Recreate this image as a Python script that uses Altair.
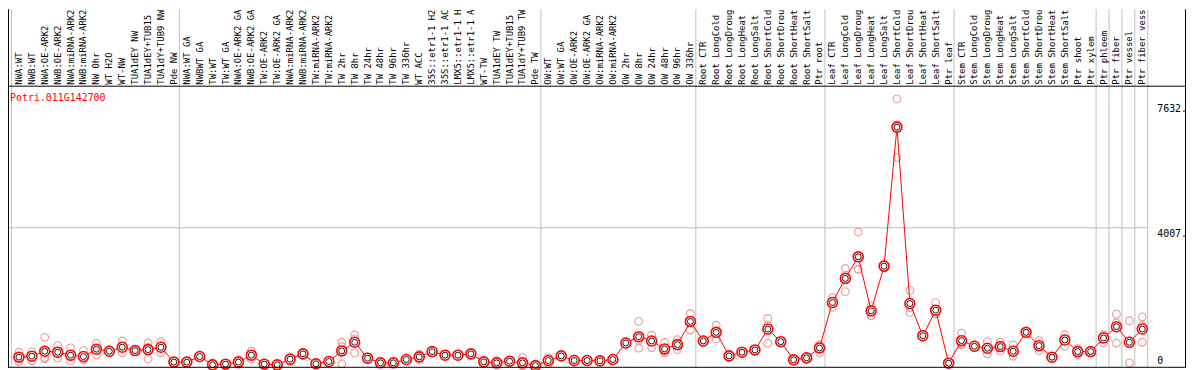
import altair as alt
import pandas as pd

gene = "Potri.011G142700"

group_labels = [
    ["NWA:WT", "NWB:WT", "NWA:OE-ARK2", "NWB:OE-ARK2", "NWA:miRNA-ARK2", "NWB:miRNA-ARK2",
     "NW 0hr", "WT H2O", "WT-NW", "TUA1dEY NW", "TUA1dEY+TUB15 NW", "TUA1dY+TUB9 NW", "Pde NW"],
    ["NWA:WT GA", "NWBWT GA", "TW:WT", "TW:WT GA", "NWA:OE-ARK2 GA", "NWB:OE-ARK2 GA",
     "TW:OE-ARK2", "TW:OE-ARK2 GA", "NWA:miRNA-ARK2 GA", "NWB:miRNA-ARK2 GA", "TW:miRNA-ARK2",
     "TW:miRNA-ARK2 GA", "TW 2hr", "TW 8hr", "TW 24hr", "TW 48hr", "TW 96hr", "TW 336hr",
     "WT ACC", "35S::etr1-1 H2O", "35S::etr1-1 ACC", "LMX5::etr1-1 H2O", "LMX5::etr1-1 ACC",
     "WT-TW", "TUA1dEY TW", "TUA1dEY+TUB15 TW", "TUA1dY+TUB9 TW", "Pde TW"],
    ["OW:WT", "OW:WT GA", "OW:OE-ARK2", "OW:OE-ARK2 GA", "OW:miRNA-ARK2", "OW:miRNA-ARK2 GA",
     "OW 2hr", "OW 8hr", "OW 24hr", "OW 48hr", "OW 96hr", "OW 336hr"],
    ["Root CTR", "Root LongCold", "Root LongDrought", "Root LongHeat", "Root LongSalt",
     "Root ShortCold", "Root ShortDrought", "Root ShortHeat", "Root ShortSalt", "Ptr root"],
    ["Leaf CTR", "Leaf LongCold", "Leaf LongDrought", "Leaf LongHeat", "Leaf LongSalt",
     "Leaf ShortCold", "Leaf ShortDrought", "Leaf ShortHeat", "Leaf ShortSalt", "Ptr leaf"],
    ["Stem CTR", "Stem LongCold", "Stem LongDrought", "Stem LongHeat", "Stem LongSalt",
     "Stem ShortCold", "Stem ShortDrought", "Stem ShortHeat", "Stem ShortSalt", "Ptr shoot",
     "Ptr xylem"],
    ["Ptr phloem"],
    ["Ptr fiber"],
    ["Ptr vessel"],
    ["Ptr fiber vessel"],
]

means = [
    251, 279, 423, 395, 308, 269, 481, 423, 539, 441, 470, 539, 107,
    107, 269, 29, 48, 107, 308, 48, 29, 192, 346, 58, 125, 432, 683, 221, 86, 86, 182,
    259, 413, 308, 308, 346, 115, 86, 134, 86, 5,
    153, 288, 153, 153, 144, 182, 663, 845, 721, 490, 615, 1288,
    721, 971, 288, 395, 461, 1067, 701, 173, 230, 519,
    1836, 2537, 3162, 1595, 2892, 6928, 1807, 874, 1614, 77,
    730, 567, 510, 557, 423, 971, 585, 250, 750, 413, 413,
    807, 1134, 683, 1067,
]

replicates = [
    [395, 124, 240], [412, 153, 270], [827, 202, 240], [585, 222, 380], [519, 144, 260],
    [441, 202, 165], [654, 317, 470], [470, 380], [721, 375, 520], [460, 420],
    [663, 202, 545], [701, 375, 540], [120, 95],
    [125, 90], [280, 258], [86, 0], [55, 40], [182, 40], [423, 200], [50, 46], [35, 22],
    [260, 130], [360, 330], [65, 50], [130, 120], [683, 58, 555], [894, 375, 780],
    [260, 180], [90, 80], [95, 78], [210, 155], [346, 172], [430, 395], [320, 296],
    [315, 300], [355, 337], [130, 100], [153, 20], [150, 118], [240, 18, 0], [10, 0],
    [240, 66], [300, 276], [202, 104], [165, 141], [150, 138], [190, 174], [700, 626],
    [1288, 510, 737], [894, 519, 750], [683, 375, 412], [759, 471], [1519, 1038, 1307],
    [760, 682], [1182, 778, 953], [320, 256], [405, 385], [470, 452], [1374, 654, 1173],
    [730, 672], [190, 156], [240, 220], [615, 375, 567],
    [1692, 1980], [2825, 2153, 2633], [3883, 2797, 2806], [1738, 1452], [2950, 2834],
    [7746, 6046, 6992], [2191, 1548, 1682], [920, 828], [1836, 1499, 1507], [85, 69],
    [951, 605, 634], [605, 529], [701, 346, 483], [683, 431], [605, 279, 385], [990, 952],
    [730, 440], [260, 240], [903, 567, 780], [500, 326], [420, 406],
    [903, 663, 855], [1499, 654, 1249], [1307, 86, 656], [1422, 1163, 683],
]

tick_values = [7632, 4007, 0]
tick_texts = ["7632.", "4007.", "0"]
grid_values = [4007]

# the header only has room for the first 14 characters of each label (as in the reference)
VISIBLE_CHARS = 14

# ---- tables ----
labels = [lab for g in group_labels for lab in g]
samples = pd.DataFrame({
    "pos": list(range(len(labels))),
    "label": [lab[:VISIBLE_CHARS].rstrip() for lab in labels],
    "mean": means,
})

rep_rows = []
for i, vals in enumerate(replicates):
    for v in vals:
        rep_rows.append({"pos": i, "value": v})
reps = pd.DataFrame(rep_rows)

starts = []
s = 0
for g in group_labels:
    starts.append(s)
    s += len(g)
starts.append(s)
seps = pd.DataFrame({"sep": [k - 8 / 13 + 0.5 / 13 for k in starts]})

ticks = pd.DataFrame({"v": tick_values, "t": tick_texts})
grid = pd.DataFrame({"v": grid_values})
title_df = pd.DataFrame({"t": [gene]})

W, H = 1186, 362
xscale = alt.Scale(domain=[-11 / 13, (W - 11) / 13], nice=False, zero=False)
yscale = alt.Scale(domain=[-86.48, 10349.1], nice=False, zero=False)
MONO = "DejaVu Sans Mono"

sep_layer = alt.Chart(seps).mark_rule(color="#c0c0c0", strokeWidth=1).encode(
    x=alt.X("sep:Q", scale=xscale, axis=None),
    y=alt.value(0), y2=alt.value(360),
)

grid_layer = alt.Chart(grid).mark_rule(color="#c0c0c0", strokeWidth=1).encode(
    y=alt.Y("v:Q", scale=yscale, axis=None),
    x=alt.value(0), x2=alt.value(1147),
)

rep_layer = alt.Chart(reps).mark_point(
    shape="circle", filled=False, size=60, color="#ec9c9c", strokeWidth=1.1, opacity=1
).encode(
    x=alt.X("pos:Q", scale=xscale, axis=None),
    y=alt.Y("value:Q", scale=yscale, axis=None),
)

line_layer = alt.Chart(samples).mark_line(color="#ff0000", strokeWidth=1).encode(
    x=alt.X("pos:Q", scale=xscale, axis=None),
    y=alt.Y("mean:Q", scale=yscale, axis=None),
)

mean_outer = alt.Chart(samples).mark_point(
    shape="circle", filled=False, fill="white", fillOpacity=1, size=100,
    stroke="#ff0000", strokeWidth=1.6, opacity=1
).encode(
    x=alt.X("pos:Q", scale=xscale, axis=None),
    y=alt.Y("mean:Q", scale=yscale, axis=None),
)

mean_inner = alt.Chart(samples).mark_point(
    shape="circle", filled=False, size=36, stroke="black", strokeWidth=0.9, opacity=1
).encode(
    x=alt.X("pos:Q", scale=xscale, axis=None),
    y=alt.Y("mean:Q", scale=yscale, axis=None),
)

label_layer = alt.Chart(samples).mark_text(
    angle=270, align="left", baseline="middle", font=MONO, fontSize=9, color="black"
).encode(
    x=alt.X("pos:Q", scale=xscale, axis=None),
    y=alt.value(76),
    text="label:N",
)

title_layer = alt.Chart(title_df).mark_text(
    align="left", baseline="middle", font=MONO, fontSize=10, color="#ff0000"
).encode(x=alt.value(2), y=alt.value(89), text="t:N")

tick_top = alt.Chart(ticks[ticks["v"] > 0]).mark_text(
    align="left", baseline="top", dy=1, font=MONO, fontSize=10, color="black"
).encode(
    x=alt.value(1157),
    y=alt.Y("v:Q", scale=yscale, axis=None),
    text="t:N",
)
tick_zero = alt.Chart(ticks[ticks["v"] == 0]).mark_text(
    align="left", baseline="bottom", font=MONO, fontSize=10, color="black"
).encode(
    x=alt.value(1157),
    y=alt.Y("v:Q", scale=yscale, axis=None),
    text="t:N",
)

frame_df = pd.DataFrame({"k": [0]})
frame_left = alt.Chart(frame_df).mark_rule(color="black", strokeWidth=1).encode(
    x=alt.value(0.5), y=alt.value(0), y2=alt.value(361))
frame_right = alt.Chart(frame_df).mark_rule(color="black", strokeWidth=1).encode(
    x=alt.value(1185.5), y=alt.value(0), y2=alt.value(361))
frame_head = alt.Chart(frame_df).mark_rule(color="black", strokeWidth=1).encode(
    y=alt.value(77.5), x=alt.value(0), x2=alt.value(W))
frame_bottom = alt.Chart(frame_df).mark_rule(color="black", strokeWidth=1).encode(
    y=alt.value(360.5), x=alt.value(0), x2=alt.value(W))

chart = alt.layer(
    sep_layer, grid_layer, rep_layer, line_layer, mean_outer, mean_inner,
    frame_left, frame_right, frame_head, frame_bottom,
    label_layer, title_layer, tick_top, tick_zero,
).properties(
    width=W, height=H, padding=0,
    autosize=alt.AutoSizeParams(type="none", contains="padding"),
    background="white",
).configure_view(strokeWidth=0)

chart.save("out.html", embed_options={"renderer": "svg", "actions": False})
